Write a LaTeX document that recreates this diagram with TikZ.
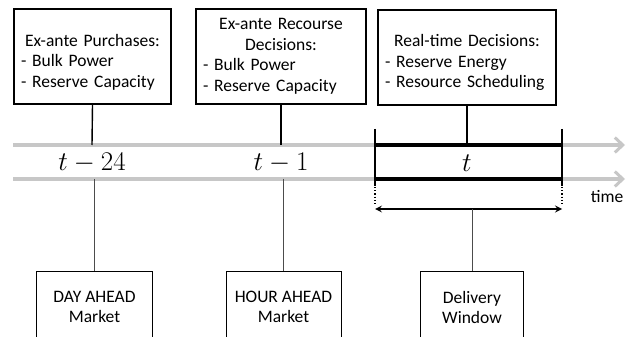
\RequirePackage{fix-cm}
\documentclass[tikz,border=0pt]{standalone}
\usepackage[no-math]{fontspec}
\setmainfont{Carlito}
\usepackage{tikz}
\usetikzlibrary{arrows.meta, positioning}
\tikzset{>=stealth}
\tikzset{
    decbox/.style={draw, line width=1.2pt, align=left, inner sep=7pt, minimum height=95pt, font=\fontsize{17.5}{20.5}\selectfont},
    mktbox/.style={draw, line width=0.9pt, align=center, minimum height=72pt, font=\fontsize{17.5}{20}\selectfont},
    timeline/.style={line width=4pt, black!22, -{Straight Barb[length=8pt, width=15pt, line width=3pt]}},
    stem/.style={line width=1.4pt},
    lowstem/.style={line width=1pt, black!70},
    tlabel/.style={font=\fontsize{27}{32}\selectfont},
}
\newcommand{\lowerstrut}{\rule{0pt}{23pt}}

\begin{document}
\begin{tikzpicture}[x=1pt, y=-1pt]
    \useasboundingbox (0,0) rectangle (641,337);
    % time axes
    \coordinate (ua) at (13,145);
    \coordinate (ub) at (625,145);
    \coordinate (la) at (13,179);
    \coordinate (lb) at (625,179);
    \draw[timeline](ua)--(ub);
    \draw[timeline](la)--(lb);
    \node[font=\fontsize{17.5}{20}\selectfont] (time) at (607,197){time};
    % decisions
    \node[decbox, text width=143pt] (pur) at (92.5,56.5)
        {{\centering\lowerstrut Ex-ante Purchases:\par}- Bulk Power\\- Reserve Capacity};
    \node[decbox, text width=156pt] (rec) at (281,56.5)
        {{\centering Ex-ante Recourse\\Decisions:\par}- Bulk Power\\- Reserve Capacity};
    \node[decbox, text width=164pt] (rt) at (467,57.5)
        {{\centering\lowerstrut Real-time Decisions:\par}- Reserve Energy\\- Resource Scheduling};
    % instants
    \node[tlabel] (tm24) at (92,163){$t-24$};
    \node[tlabel] (tm1) at (281,163){$t-1$};
    \node[tlabel] (tnow) at (467,163){$t$};
    \coordinate (p24) at (92,145);
    \coordinate (p1) at (281,145);
    \coordinate (pt) at (467,145);
    \draw[stem](pur.south)--(p24);
    \draw[stem](rec.south)--(p1);
    \draw[stem](rt.south)--(pt);
    % delivery window
    \coordinate (wtl) at (375,145);
    \coordinate (wtr) at (562,145);
    \coordinate (wbl) at (375,179);
    \coordinate (wbr) at (562,179);
    \draw[line width=3.5pt](wtl)--(wtr);
    \draw[line width=3.5pt](wbl)--(wbr);
    \draw[stem](375,129)--(375,186);
    \draw[stem](562,129)--(562,186);
    \draw[line width=1.2pt, dotted](375,187)--(375,205);
    \draw[line width=1.2pt, dotted](562,187)--(562,205);
    \coordinate (dwl) at (375,209);
    \coordinate (dwr) at (562,209);
    \coordinate (dwm) at (472,209);
    \draw[<->, line width=2pt](dwl)--(dwr);
    % markets
    \node[mktbox, minimum width=116pt] (dam) at (94.5,307){DAY AHEAD\\Market};
    \node[mktbox, minimum width=115pt] (ham) at (283.5,307){HOUR AHEAD\\Market};
    \node[mktbox, minimum width=103pt] (dw) at (472,307){Delivery\\Window};
    \coordinate (q24) at (94,179);
    \coordinate (q1) at (283,179);
    \draw[lowstem](q24)--(q24|-dam.north);
    \draw[lowstem](q1)--(q1|-ham.north);
    \draw[lowstem](dwm)--(dwm|-dw.north);
\end{tikzpicture}
\end{document}
